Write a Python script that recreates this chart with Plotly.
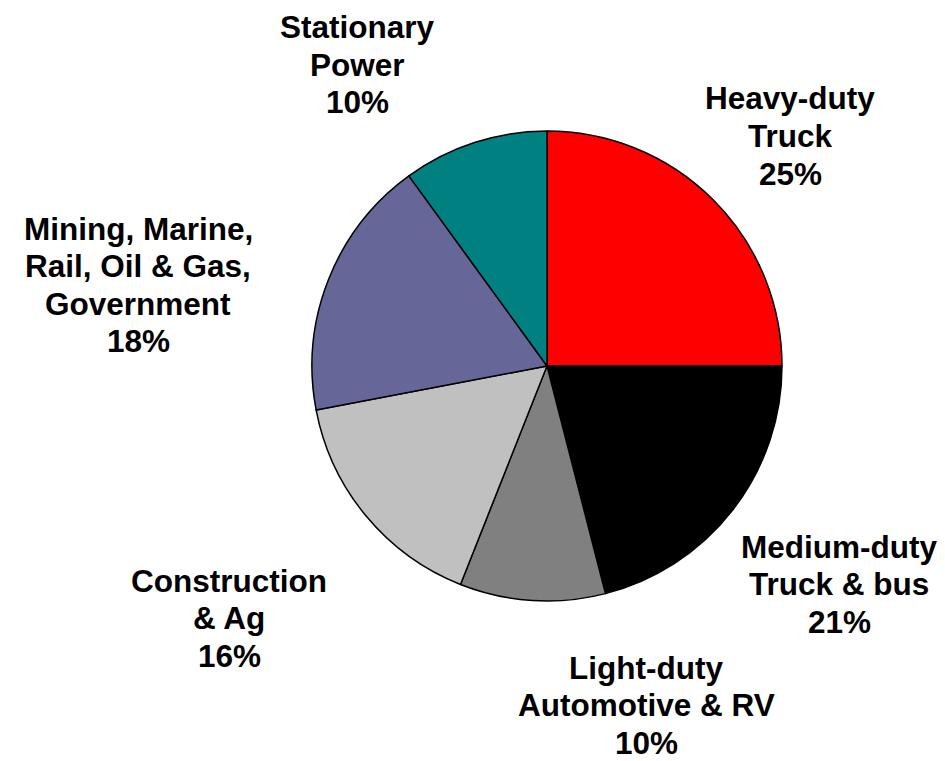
import plotly.graph_objects as go

# Market segments, clockwise from 12 o'clock
segments = [
    "Heavy-duty<br>Truck",
    "Medium-duty<br>Truck & bus",
    "Light-duty<br>Automotive & RV",
    "Construction<br>& Ag",
    "Mining, Marine,<br>Rail, Oil & Gas,<br>Government",
    "Stationary<br>Power",
]
shares = [25, 21, 10, 16, 18, 10]
colors = ["#FF0000", "#000000", "#808080", "#C0C0C0", "#666699", "#008080"]

# Label block centres in pixels (x, y from top) for a 945x761 canvas
label_px = [
    (790, 136),
    (839, 584),
    (646, 705),
    (229, 618),
    (138, 285),
    (357, 65),
]

W, H = 945, 761
cx, cy, r = 547, 366, 235
LINE_GAP = 37.5  # px between label lines
FONT_SIZE = 31.5

fig = go.Figure(
    go.Pie(
        labels=segments,
        values=shares,
        sort=False,
        direction="clockwise",
        rotation=0,
        marker=dict(colors=colors, line=dict(color="#000000", width=1.5)),
        textinfo="none",
        hoverinfo="label+percent",
        showlegend=False,
        domain=dict(
            x=[(cx - r) / W, (cx + r) / W],
            y=[1 - (cy + r) / H, 1 - (cy - r) / H],
        ),
    )
)

total = sum(shares)
annotations = []
for name, val, (px, py) in zip(segments, shares, label_px):
    lines = name.split("<br>") + [f"{round(100 * val / total)}%"]
    n = len(lines)
    for i, line in enumerate(lines):
        ly = py + (i - (n - 1) / 2) * LINE_GAP
        annotations.append(
            dict(
                text=f"<b>{line}</b>",
                x=px / W,
                y=1 - ly / H,
                xref="paper",
                yref="paper",
                xanchor="center",
                yanchor="middle",
                showarrow=False,
                borderpad=0,
                font=dict(family="Liberation Sans, Arial, sans-serif", size=FONT_SIZE, color="#000000"),
            )
        )

fig.update_layout(
    width=W,
    height=H,
    margin=dict(l=0, r=0, t=0, b=0),
    paper_bgcolor="#FFFFFF",
    plot_bgcolor="#FFFFFF",
    annotations=annotations,
)

fig.write_html("out.html")
